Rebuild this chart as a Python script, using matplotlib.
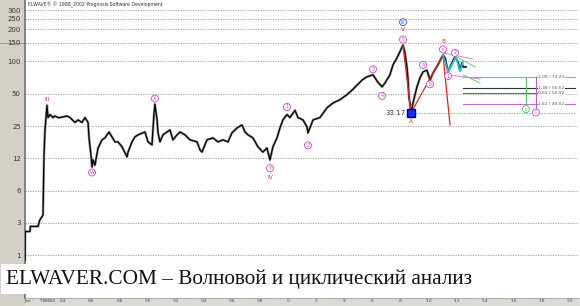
import numpy as np
import matplotlib.pyplot as plt
from matplotlib.patches import Rectangle

# price path (decimal year, price)
years = [1970.0, 1970.1, 1972.2, 1972.4, 1975.8, 1976.5, 1977.6, 1978.0, 1978.4, 1978.8,
         1979.2, 1979.6, 1980.0, 1980.8, 1982.0, 1982.4, 1983.0, 1983.4, 1984.28, 1984.5,
         1984.85, 1985.07, 1985.35, 1985.56, 1985.78, 1985.85, 1986.0, 1986.06, 1986.13, 1986.27,
         1986.49, 1986.77, 1986.98, 1987.27, 1987.48, 1987.69, 1987.91, 1988.19, 1988.55, 1988.62,
         1988.90, 1989.11, 1989.33, 1989.82, 1990.04, 1990.32, 1990.46, 1990.53, 1990.68, 1990.75,
         1990.89, 1991.10, 1991.60, 1991.81, 1992.10, 1992.31, 1992.66, 1993.02, 1993.52, 1993.73,
         1993.87, 1994.23, 1994.65, 1995.01, 1995.36, 1995.72, 1996.00, 1996.36, 1996.71, 1996.93,
         1997.14, 1997.49, 1997.85, 1998.20, 1998.49, 1998.70, 1998.91, 1999.20, 1999.41, 1999.62,
         1999.91, 2000.12, 2000.48, 2000.69, 2001.05, 2001.33, 2001.40, 2001.76, 2002.25, 2002.75,
         2003.18, 2003.67, 2004.17, 2004.53, 2004.88, 2005.24, 2005.59, 2006.02, 2006.37, 2006.66,
         2006.87, 2007.22, 2007.44, 2007.72, 2007.93, 2008.15, 2008.29, 2008.43, 2008.50, 2008.57,
         2008.64, 2008.72, 2008.86, 2009.14, 2009.35, 2009.57, 2009.85, 2010.07, 2010.28, 2010.63,
         2010.99, 2011.14, 2011.35, 2011.63, 2011.84, 2012.06, 2012.20, 2012.34, 2012.41, 2012.62]
prices = [1.4, 2.6, 2.6, 2.9, 2.9, 3.3, 3.6, 3.7, 13.4, 23,
          30, 39, 30, 32, 30, 31, 30, 30, 31, 30,
          27, 28.5, 27, 30, 27, 19.4, 12.9, 10.4, 12.1, 10.8,
          15.6, 18.6, 19.4, 22, 19.8, 17.8, 17.8, 16, 12.9, 14.3,
          17.8, 19.8, 20.7, 22, 17.8, 16.7, 32, 40, 28.5, 21.6,
          17.8, 20.7, 23, 18.6, 20.7, 22, 20.7, 18.6, 17.8, 15,
          14.3, 18.6, 19.4, 17.8, 18.6, 17.8, 21.6, 24, 25.6, 22,
          20.7, 19.4, 16, 14.3, 15.6, 12.1, 16, 19.4, 24, 28.5,
          32, 30, 35, 30, 28.5, 24.5, 21.6, 28.5, 30, 37,
          41, 44, 49, 54, 60, 67, 72, 75, 64, 58,
          63, 75, 93, 108, 123, 142, 120, 89, 70, 47,
          41, 33.17, 41, 58, 70, 80, 83, 67, 78, 93,
          115, 108, 80, 97, 110, 99, 83, 97, 89, 89]

# wave labels: text, pivot year, pivot price, offset in points
circle_text = ['W', 'X', 'Y', '1', '2', '3', '4', '5', 'a', 'b', 'c', '1', '2']
circle_year = [1986.06, 1990.53, 1998.70, 1999.91, 2001.40, 2006.02, 2006.66, 2008.15,
               2009.57, 2010.07, 2010.99, 2011.35, 2011.84]
circle_price = [10.4, 40, 12.1, 32, 21.6, 75, 58, 142, 80, 67, 115, 80, 110]
circle_dy = [-4, 4, -6, 5.5, -9, 4, -6.5, 4, 5, -3, 4, -3, 3]

red_text = ['III', 'IV', 'V', 'A', 'B']
red_year = [1979.6, 1998.70, 2008.15, 2008.72, 2010.99]
red_price = [39, 12.1, 142, 33.17, 115]
red_dy = [4.5, -12.5, 11, -6, 9.5]

# fibonacci projection targets
fib_ratio = ['1.00', '1.38', '0.62', '2.62']
fib_price = [72.23, 56.62, 50.92, 40.02]
fib_color = ['#66cc66', '#333333', '#339933', '#cc66cc']
fib_start = 2012.4
fib_end = [2020.36, 2020.36, 2017.7, 2020.36]

# channel / count lines after B
cyan_year = [2010.99, 2011.35, 2011.91, 2012.20, 2012.41]
cyan_price = [115, 80, 110, 81, 99]

# x axis: early history is compressed (bar based time axis)
yr_bp = [1970, 1978, 1980, 1982, 1984, 2030]
px_bp = [25, 43, 48, 53, 63, 710.7]
tick_years = [1971.5, 1978, 1980, 1982, 1984] + list(range(1986, 2021, 2))
tick_labels = ["Jan '", "'78", "'80", "'82", "'84", "'86", "'88", "'90", "'92", "'94",
               "'96", "'98", "'0", "'2", "'4", "'6", "'8", "'10", "'12", "'14",
               "'16", "'18", "'20"]

y_ticks = [300, 250, 200, 150, 100, 50, 25, 12.5, 6.25, 3.125, 1.5625]
y_labels = ['300', '250', '200', '150', '100', '50', '25', '12', '6', '3', '1']


def fwd(x):
    return np.interp(x, yr_bp, px_bp)


def inv(x):
    return np.interp(x, px_bp, yr_bp)


def circ(ax, txt, x, y, dy, color, fs=3.6):
    ax.annotate(txt, (x, y), xytext=(0, dy), textcoords='offset points',
                ha='center', va='center', fontsize=fs, color=color,
                bbox=dict(boxstyle='circle,pad=0.2', fc='white', ec=color, lw=0.6),
                zorder=6)


def main():
    W, H = 580, 306
    fig = plt.figure(figsize=(W / 100, H / 100), dpi=100)
    fig.patch.set_facecolor('white')

    # window chrome: grey scale panel on the left and time strip at bottom
    fig.patches.append(Rectangle((0, 0), 1, 8 / H, transform=fig.transFigure,
                                 fc='#dcdad4', ec='none', zorder=-2))
    fig.patches.append(Rectangle((0, 0), 25 / W, 1, transform=fig.transFigure,
                                 fc='#d4d0c8', ec='none', zorder=-2))
    fig.lines.append(plt.Line2D([0, 25 / W], [1 - 43 / H, 1 - 43 / H], transform=fig.transFigure,
                                color='#909090', lw=0.6, zorder=-1))

    ax = fig.add_axes([25 / W, 8 / H, 553 / W, 1 - 8 / H])
    ax.set_facecolor('white')
    ax.set_xscale('function', functions=(fwd, inv))
    ax.set_yscale('log')
    ax.set_xlim(1970, 2020.58)
    ax.set_ylim(0.624, 374)

    ax.set_yticks(y_ticks)
    ax.set_yticklabels(y_labels)
    ax.yaxis.set_minor_locator(plt.NullLocator())
    ax.set_xticks(tick_years)
    ax.set_xticklabels(tick_labels)
    ax.xaxis.set_minor_locator(plt.NullLocator())
    ax.tick_params(axis='y', length=0, pad=3, labelsize=5, labelcolor='#333333')
    ax.tick_params(axis='x', length=0, pad=0.5, labelsize=3.1, labelcolor='#444444')
    ax.grid(axis='y', color='#999999', linestyle=(0, (1.5, 1.5)), lw=0.6)
    for s in ['top', 'right']:
        ax.spines[s].set_visible(False)
    ax.spines['left'].set_color('#707070')
    ax.spines['left'].set_linewidth(1.2)
    ax.spines['bottom'].set_color('#999999')
    ax.spines['bottom'].set_linestyle((0, (1.5, 1.5)))
    ax.spines['bottom'].set_linewidth(0.6)

    ax.plot(years, prices, color='#999999', lw=1.8, zorder=2)
    ax.plot(years, prices, color='black', lw=0.9, zorder=3)

    # elliott count lines
    ia, ib, iv = prices.index(33.17), years.index(2010.99), years.index(2008.15)
    ax.plot([years[iv], years[ia]], [prices[iv], prices[ia]], color='#e02020', lw=0.9, zorder=4)
    ax.plot([years[ia], years[ib]], [prices[ia], prices[ib]], color='#e02020', lw=0.9, zorder=4)
    ax.plot([years[ib], 2011.49], [prices[ib], 25.6], color='#e02020', lw=0.9, zorder=4)
    ax.plot(cyan_year, cyan_price, color='#20c8d0', lw=1.2, zorder=4)
    ax.plot([2010.99, 2013.12], [120, 105.5], color='#cc88dd', lw=0.7, zorder=4)
    ax.plot([2011.35, 2013.62], [75, 68.7], color='#cc88dd', lw=0.7, zorder=4)
    ax.plot([2011.98, 2013.26], [110, 89], color='#66cc66', lw=0.7, zorder=4)
    ax.plot([2012.41, 2013.62], [75, 63], color='#66cc66', lw=0.7, zorder=4)

    # low of A and its level
    ax.plot([years[ia], 2020.36], [prices[ia], prices[ia]], color='#ee6666',
            lw=0.6, linestyle=(0, (1.5, 1.5)), zorder=2)
    ax.plot(years[ia], prices[ia], marker='s', ms=6, mfc='#1030ff', mec='#000066', zorder=7)
    ax.annotate(f'{prices[ia]:.2f}', (years[ia], prices[ia]), xytext=(-4, 0),
                textcoords='offset points', ha='right', va='center', fontsize=5,
                color='#333333', zorder=7)

    # fibonacci projections
    for r, p, c, e in zip(fib_ratio, fib_price, fib_color, fib_end):
        ax.plot([fib_start, e], [p, p], color=c, lw=0.8, zorder=3)
        ax.text(2017.75, p, f'{r} / {p:.2f}', fontsize=3.2, color='#555555',
                va='center', ha='left', zorder=5,
                bbox=dict(fc='white', ec='none', pad=0.2))
    ax.plot([2016.88, 2016.88], [fib_price[0], 37.6], color='#55bb55', lw=0.8, zorder=3)
    ax.plot([2017.59, 2017.59], [fib_price[0], 35], color='#bb55cc', lw=0.8, zorder=3)
    circ(ax, 'c', 2016.88, 37.6, -1.5, '#55bb55')
    circ(ax, 'C', 2017.59, 35, -1.5, '#bb55cc')

    for t, x, y, d in zip(circle_text, circle_year, circle_price, circle_dy):
        circ(ax, t, x, y, d, '#cc44cc')
    for t, x, y, d in zip(red_text, red_year, red_price, red_dy):
        ax.annotate(t, (x, y), xytext=(0, d), textcoords='offset points', ha='center',
                    va='center', fontsize=4.2, color='#e03030', zorder=6)
    circ(ax, 'III', 2008.15, 142, 16.5, '#3344ff', fs=3.4)

    fig.text(28 / W, 1 - 5 / H, 'ELWAVE\u00ae \u00a9 1988_2002 Prognosis Software Development',
             fontsize=3.3, color='#333333', va='center', ha='left')
    fig.text(6 / W, 1 - 279 / H, 'ELWAVER.COM \u2013 Волновой и циклический анализ',
             family='Liberation Serif', fontsize=15.3,
             color='#111111', va='center', ha='left',
             bbox=dict(fc='white', ec='none', pad=3.5), zorder=10)

    fig.savefig('out.png', dpi=100)
    plt.close(fig)


if __name__ == '__main__':
    main()
